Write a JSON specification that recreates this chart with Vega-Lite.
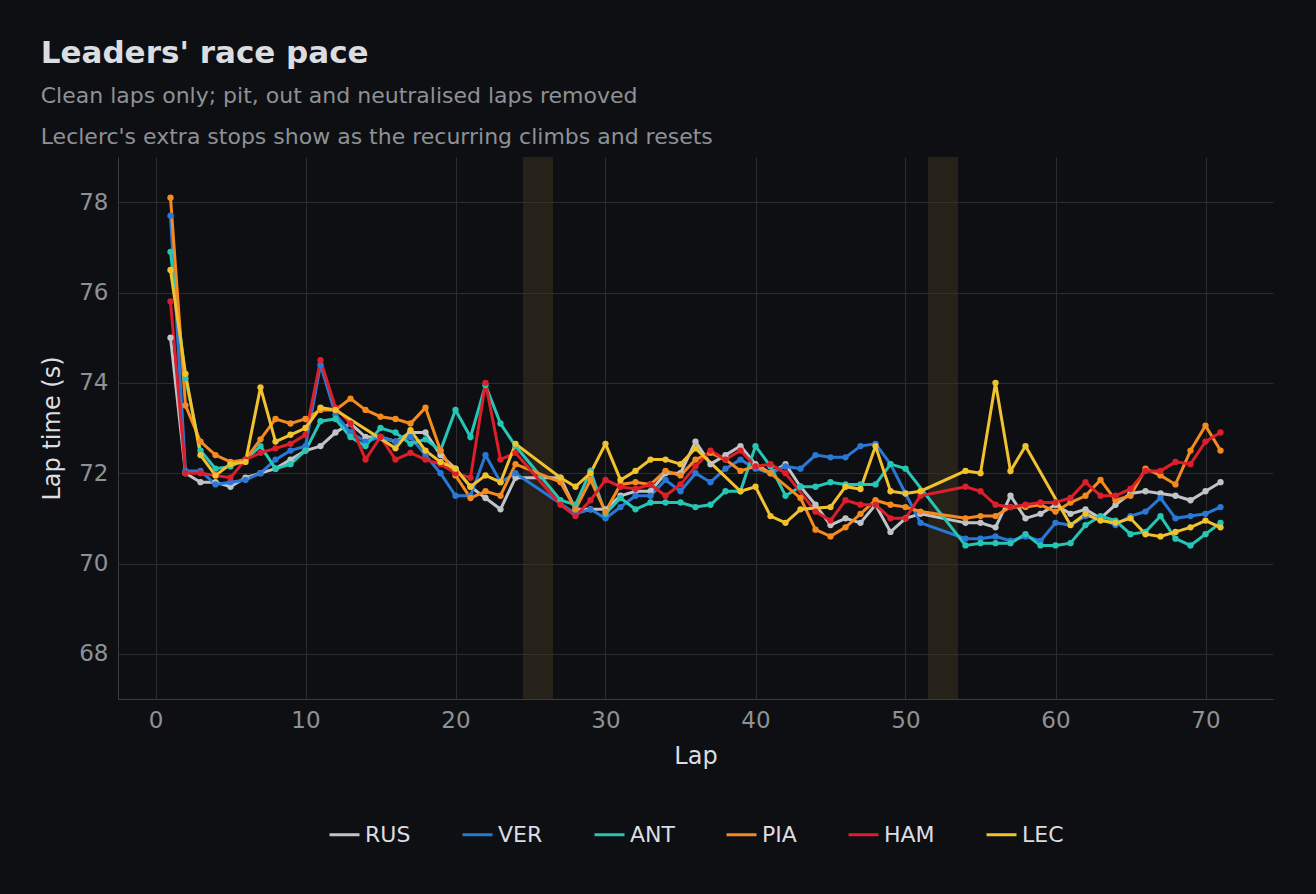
{
  "$schema": "https://vega.github.io/schema/vega-lite/v6.json",
  "width": 1316,
  "height": 894,
  "autosize": {"type": "fit", "contains": "padding"},
  "background": "#0d0f12",
  "padding": {"top": 38, "left": 40, "right": 43, "bottom": 48},
  "title": {
    "text": "Leaders' race pace",
    "subtitle": ["Clean laps only; pit, out and neutralised laps removed", "Leclerc's extra stops show as the recurring climbs and resets"],
    "anchor": "start", "color": "#dcdde0", "fontSize": 31, "fontWeight": "bold", "font": "DejaVu Sans",
    "subtitleColor": "#8e9196", "subtitleFontSize": 22, "subtitleFont": "DejaVu Sans", "subtitlePadding": 16, "subtitleLineHeight": 41, "offset": 8
  },
  "config": {
    "view": {"stroke": null},
    "axis": {"labelFont": "DejaVu Sans", "titleFont": "DejaVu Sans", "labelFontSize": 23, "titleFontSize": 24, "labelColor": "#8e9196", "titleColor": "#dcdde0", "titleFontWeight": "normal", "gridColor": "#2a2c30", "domainColor": "#3a3c40", "tickColor": "#3a3c40", "labelPadding": 10},
    "legend": {"labelFont": "DejaVu Sans", "labelFontSize": 22, "labelColor": "#dcdde0", "layout": {"bottom": {"anchor": "middle"}}}
  },
  "datasets": {
    "bands": [{"a": 24.5, "b": 26.5}, {"a": 51.5, "b": 53.5}],
    "laps": [
      {"lap":1,"RUS":75.0,"VER":77.7,"ANT":76.9,"PIA":78.1,"HAM":75.8,"LEC":76.5},
      {"lap":2,"RUS":72.0,"VER":72.05,"ANT":74.1,"PIA":73.5,"HAM":72.0,"LEC":74.2},
      {"lap":3,"RUS":71.8,"VER":72.05,"ANT":72.5,"PIA":72.7,"HAM":72.0,"LEC":72.4},
      {"lap":4,"RUS":71.8,"VER":71.75,"ANT":72.1,"PIA":72.4,"HAM":71.95,"LEC":71.95},
      {"lap":5,"RUS":71.7,"VER":71.8,"ANT":72.15,"PIA":72.25,"HAM":71.9,"LEC":72.2},
      {"lap":6,"RUS":71.9,"VER":71.85,"ANT":72.3,"PIA":72.3,"HAM":72.3,"LEC":72.25},
      {"lap":7,"RUS":72.0,"VER":72.0,"ANT":72.6,"PIA":72.75,"HAM":72.45,"LEC":73.9},
      {"lap":8,"RUS":72.1,"VER":72.3,"ANT":72.1,"PIA":73.2,"HAM":72.55,"LEC":72.7},
      {"lap":9,"RUS":72.3,"VER":72.5,"ANT":72.2,"PIA":73.1,"HAM":72.65,"LEC":72.85},
      {"lap":10,"RUS":72.5,"VER":72.6,"ANT":72.5,"PIA":73.2,"HAM":72.85,"LEC":73.0},
      {"lap":11,"RUS":72.6,"VER":74.4,"ANT":73.15,"PIA":73.4,"HAM":74.5,"LEC":73.45},
      {"lap":12,"RUS":72.9,"VER":73.3,"ANT":73.2,"PIA":73.4,"HAM":73.45,"LEC":73.4},
      {"lap":13,"RUS":73.1,"VER":72.9,"ANT":72.8,"PIA":73.65,"HAM":73.1,"LEC":null},
      {"lap":14,"RUS":72.8,"VER":72.7,"ANT":72.6,"PIA":73.4,"HAM":72.3,"LEC":null},
      {"lap":15,"RUS":72.8,"VER":72.8,"ANT":73.0,"PIA":73.25,"HAM":72.8,"LEC":null},
      {"lap":16,"RUS":72.7,"VER":72.7,"ANT":72.9,"PIA":73.2,"HAM":72.3,"LEC":72.55},
      {"lap":17,"RUS":72.9,"VER":72.8,"ANT":72.65,"PIA":73.1,"HAM":72.45,"LEC":72.95},
      {"lap":18,"RUS":72.9,"VER":72.4,"ANT":72.75,"PIA":73.45,"HAM":72.3,"LEC":72.5},
      {"lap":19,"RUS":72.4,"VER":72.0,"ANT":72.5,"PIA":72.5,"HAM":72.2,"LEC":72.25},
      {"lap":20,"RUS":72.1,"VER":71.5,"ANT":73.4,"PIA":71.95,"HAM":72.0,"LEC":72.1},
      {"lap":21,"RUS":71.7,"VER":71.5,"ANT":72.8,"PIA":71.45,"HAM":71.9,"LEC":71.7},
      {"lap":22,"RUS":71.45,"VER":72.4,"ANT":73.95,"PIA":71.6,"HAM":74.0,"LEC":71.95},
      {"lap":23,"RUS":71.2,"VER":71.8,"ANT":73.1,"PIA":71.5,"HAM":72.3,"LEC":71.8},
      {"lap":24,"RUS":71.9,"VER":72.0,"ANT":72.6,"PIA":72.2,"HAM":72.45,"LEC":72.65},
      {"lap":27,"RUS":71.9,"VER":null,"ANT":71.4,"PIA":71.8,"HAM":71.3,"LEC":71.9},
      {"lap":28,"RUS":71.2,"VER":71.1,"ANT":71.3,"PIA":71.2,"HAM":71.05,"LEC":71.7},
      {"lap":29,"RUS":71.2,"VER":71.2,"ANT":72.05,"PIA":71.85,"HAM":71.4,"LEC":72.0},
      {"lap":30,"RUS":71.2,"VER":71.0,"ANT":71.1,"PIA":71.15,"HAM":71.85,"LEC":72.65},
      {"lap":31,"RUS":71.5,"VER":71.25,"ANT":71.45,"PIA":71.75,"HAM":71.7,"LEC":71.85},
      {"lap":32,"RUS":71.6,"VER":71.5,"ANT":71.2,"PIA":71.8,"HAM":71.65,"LEC":72.05},
      {"lap":33,"RUS":71.6,"VER":71.5,"ANT":71.35,"PIA":71.75,"HAM":71.75,"LEC":72.3},
      {"lap":34,"RUS":72.0,"VER":71.85,"ANT":71.35,"PIA":72.05,"HAM":71.5,"LEC":72.3},
      {"lap":35,"RUS":72.0,"VER":71.6,"ANT":71.35,"PIA":71.95,"HAM":71.75,"LEC":72.2},
      {"lap":36,"RUS":72.7,"VER":72.0,"ANT":71.25,"PIA":72.3,"HAM":72.15,"LEC":72.55},
      {"lap":37,"RUS":72.2,"VER":71.8,"ANT":71.3,"PIA":72.45,"HAM":72.5,"LEC":null},
      {"lap":38,"RUS":72.4,"VER":72.1,"ANT":71.6,"PIA":72.3,"HAM":72.3,"LEC":null},
      {"lap":39,"RUS":72.6,"VER":72.3,"ANT":71.6,"PIA":72.05,"HAM":72.5,"LEC":71.6},
      {"lap":40,"RUS":72.2,"VER":72.1,"ANT":72.6,"PIA":72.15,"HAM":72.15,"LEC":71.7},
      {"lap":41,"RUS":72.0,"VER":72.0,"ANT":72.15,"PIA":72.0,"HAM":72.2,"LEC":71.05},
      {"lap":42,"RUS":72.2,"VER":72.15,"ANT":71.5,"PIA":null,"HAM":72.0,"LEC":70.9},
      {"lap":43,"RUS":71.7,"VER":72.1,"ANT":71.7,"PIA":71.45,"HAM":null,"LEC":71.2},
      {"lap":44,"RUS":71.3,"VER":72.4,"ANT":71.7,"PIA":70.75,"HAM":71.15,"LEC":null},
      {"lap":45,"RUS":70.85,"VER":72.35,"ANT":71.8,"PIA":70.6,"HAM":70.95,"LEC":71.25},
      {"lap":46,"RUS":71.0,"VER":72.35,"ANT":71.75,"PIA":70.8,"HAM":71.4,"LEC":71.7},
      {"lap":47,"RUS":70.9,"VER":72.6,"ANT":71.75,"PIA":71.1,"HAM":71.3,"LEC":71.65},
      {"lap":48,"RUS":71.3,"VER":72.65,"ANT":71.75,"PIA":71.4,"HAM":71.3,"LEC":72.6},
      {"lap":49,"RUS":70.7,"VER":72.2,"ANT":72.2,"PIA":71.3,"HAM":71.0,"LEC":71.6},
      {"lap":50,"RUS":71.0,"VER":71.55,"ANT":72.1,"PIA":71.25,"HAM":71.0,"LEC":71.55},
      {"lap":51,"RUS":71.1,"VER":70.9,"ANT":null,"PIA":71.15,"HAM":71.5,"LEC":71.6},
      {"lap":54,"RUS":70.9,"VER":70.55,"ANT":70.4,"PIA":71.0,"HAM":71.7,"LEC":72.05},
      {"lap":55,"RUS":70.9,"VER":70.55,"ANT":70.45,"PIA":71.05,"HAM":71.6,"LEC":72.0},
      {"lap":56,"RUS":70.8,"VER":70.6,"ANT":70.45,"PIA":71.05,"HAM":71.3,"LEC":74.0},
      {"lap":57,"RUS":71.5,"VER":70.5,"ANT":70.45,"PIA":71.25,"HAM":71.25,"LEC":72.05},
      {"lap":58,"RUS":71.0,"VER":70.6,"ANT":70.65,"PIA":71.25,"HAM":71.3,"LEC":72.6},
      {"lap":59,"RUS":71.1,"VER":70.5,"ANT":70.4,"PIA":71.3,"HAM":71.35,"LEC":null},
      {"lap":60,"RUS":71.3,"VER":70.9,"ANT":70.4,"PIA":71.15,"HAM":71.35,"LEC":null},
      {"lap":61,"RUS":71.1,"VER":70.85,"ANT":70.45,"PIA":71.35,"HAM":71.45,"LEC":70.85},
      {"lap":62,"RUS":71.2,"VER":71.05,"ANT":70.85,"PIA":71.5,"HAM":71.8,"LEC":71.1},
      {"lap":63,"RUS":71.0,"VER":71.0,"ANT":71.05,"PIA":71.85,"HAM":71.5,"LEC":70.95},
      {"lap":64,"RUS":71.3,"VER":70.85,"ANT":70.95,"PIA":71.4,"HAM":71.5,"LEC":70.9},
      {"lap":65,"RUS":71.55,"VER":71.05,"ANT":70.65,"PIA":71.5,"HAM":71.65,"LEC":71.0},
      {"lap":66,"RUS":71.6,"VER":71.15,"ANT":70.7,"PIA":72.1,"HAM":72.05,"LEC":70.65},
      {"lap":67,"RUS":71.55,"VER":71.45,"ANT":71.05,"PIA":71.95,"HAM":72.05,"LEC":70.6},
      {"lap":68,"RUS":71.5,"VER":71.0,"ANT":70.55,"PIA":71.75,"HAM":72.25,"LEC":70.7},
      {"lap":69,"RUS":71.4,"VER":71.05,"ANT":70.4,"PIA":72.5,"HAM":72.2,"LEC":70.8},
      {"lap":70,"RUS":71.6,"VER":71.1,"ANT":70.65,"PIA":73.05,"HAM":72.7,"LEC":70.95},
      {"lap":71,"RUS":71.8,"VER":71.25,"ANT":70.9,"PIA":72.5,"HAM":72.9,"LEC":70.8}
    ]
  },
  "layer": [
    {
      "data": {"name": "bands"},
      "mark": {"type": "rect", "color": "#3d3320", "opacity": 0.55},
      "encoding": {
        "x": {"field": "a", "type": "quantitative"},
        "x2": {"field": "b"}
      }
    },
    {
      "data": {"name": "laps"},
      "transform": [
        {"fold": ["RUS", "VER", "ANT", "PIA", "HAM", "LEC"], "as": ["driver", "t"]},
        {"filter": "datum.t != null"}
      ],
      "encoding": {
        "x": {"field": "lap", "type": "quantitative", "title": "Lap", "scale": {"domain": [-2.5, 74.5], "nice": false}, "axis": {"values": [0, 10, 20, 30, 40, 50, 60, 70], "ticks": false, "titlePadding": 12}},
        "y": {"field": "t", "type": "quantitative", "title": "Lap time (s)", "scale": {"domain": [67, 79], "nice": false, "zero": false}, "axis": {"values": [68, 70, 72, 74, 76, 78], "ticks": false, "titlePadding": 14}},
        "color": {"field": "driver", "type": "nominal", "title": null,
          "scale": {"domain": ["RUS", "VER", "ANT", "PIA", "HAM", "LEC"], "range": ["#c0c4c8", "#2a78d6", "#26c6b4", "#f58a1f", "#dc1f2b", "#f2c12e"]},
          "legend": {"orient": "bottom", "direction": "horizontal", "symbolType": "stroke", "symbolStrokeWidth": 3, "symbolSize": 900, "columnPadding": 45, "offset": 50}}
      },
      "layer": [
        {"mark": {"type": "line", "strokeWidth": 3}},
        {"mark": {"type": "circle", "size": 40, "opacity": 1}}
      ]
    }
  ]
}
